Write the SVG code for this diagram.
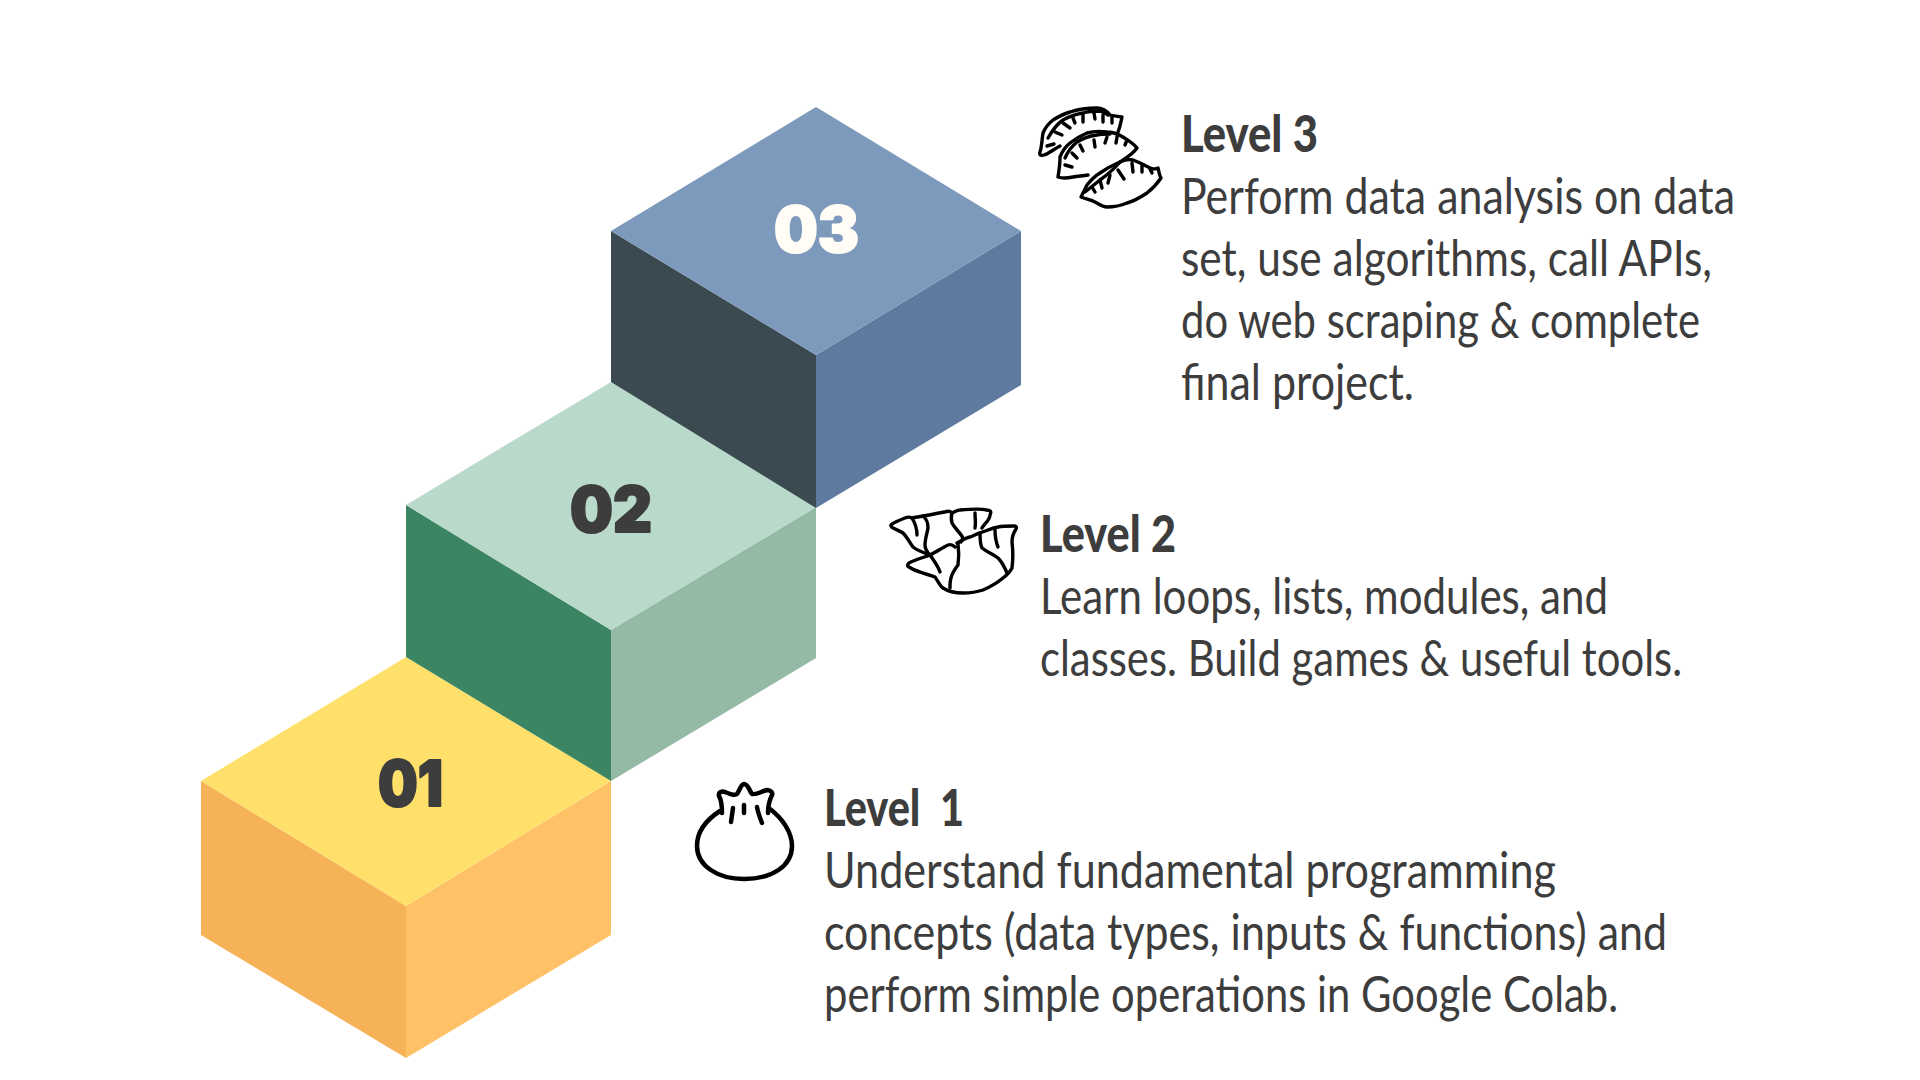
<svg xmlns="http://www.w3.org/2000/svg" width="1920" height="1080" viewBox="0 0 1920 1080">
<style>
.h{font-family:"Lato","Open Sans",sans-serif;font-weight:900;font-size:51px;fill:#3d3d3d;white-space:pre}
.t{font-family:"Lato","Open Sans",sans-serif;font-weight:400;font-size:50px;fill:#3d3d3d}
.n{font-family:"Inter",sans-serif;font-weight:900;font-size:63px;stroke-width:2;stroke-linejoin:round}
.i{fill:none;stroke:#000;stroke-width:3.4;stroke-linecap:round;stroke-linejoin:round}
</style>
<rect width="1920" height="1080" fill="#fff"/>
<g id="cube-1">
<polygon points="201,781 406,906 406,1058 201,935" fill="#f6b257"/>
<polygon points="611,781 406,906 406,1058 611,935" fill="#fec166"/>
<polygon points="406,657 611,781 406,906 201,781" fill="#fee06a"/>
<text class="n" x="378" y="806" fill="#3d3d3d" stroke="#3d3d3d" textLength="65" lengthAdjust="spacingAndGlyphs">01</text>
</g>
<g id="cube-2">
<polygon points="406,505 611,630 611,781 406,657" fill="#3b8562"/>
<polygon points="816,507 611,630 611,781 816,658" fill="#94b9a5"/>
<polygon points="611,382 816,507 611,630 406,505" fill="#b9dacb"/>
<text class="n" x="570" y="532" fill="#3d3d3d" stroke="#3d3d3d" textLength="82" lengthAdjust="spacingAndGlyphs">02</text>
</g>
<g id="cube-3">
<polygon points="611,231 816,355 816,508 611,382" fill="#3b4950"/>
<polygon points="1021,231 816,355 816,508 1021,385" fill="#5e7a9f"/>
<polygon points="816,107 1021,231 816,355 611,231" fill="#7d99bb"/>
<text class="n" x="774" y="252" fill="#fffdf5" stroke="#fffdf5" textLength="85" lengthAdjust="spacingAndGlyphs">03</text>
</g>
<g id="level-3">
<g class="i">
<path d="M1118,132C1120,127 1121,122 1122,117C1117,116 1113,116 1110,115C1106,110 1102,108 1097,108C1087,108 1079,109 1070,112C1063,114 1058,117 1053,120C1048,124 1045,128 1043,133C1042,138 1042,146 1040,152C1039,155 1041,156 1044,155C1050,153 1054,149 1060,146"/>
<path d="M1048,138C1052,131 1057,124 1063,120C1070,116 1077,114 1083,113C1089,111 1095,111 1100,111C1104,112 1106,113 1108,115"/>
<path d="M1047,146L1054,144M1055,132L1062,135M1063,123L1070,128M1073,118L1075,123M1083,115L1083,122M1094,113L1095,119M1103,115L1103,122M1112,117L1112,123"/>
<path d="M1120,162C1123,160 1133,154 1137,148C1133,143 1129,141 1123,137C1118,134 1113,132 1107,132C1100,131 1094,131 1087,133C1080,136 1075,139 1070,143C1065,147 1062,152 1060,157C1060,164 1059,171 1058,177C1063,179 1068,178 1073,177C1078,176 1083,176 1088,175"/>
<path d="M1065,158C1068,151 1072,146 1077,142C1083,138 1090,136 1097,135C1101,134 1105,134 1110,134"/>
<path d="M1065,165L1072,167M1072,153L1077,158M1080,145L1083,151M1094,140L1095,147M1107,137L1105,143M1117,137L1116,143M1127,140L1125,145"/>
<path d="M1081,197C1083,193 1085,189 1087,185C1091,180 1095,176 1100,173C1107,168 1113,165 1120,162C1124,160 1128,159 1133,160C1139,162 1144,165 1150,168C1153,170 1155,169 1158,168C1159,171 1159,175 1161,178C1157,184 1152,189 1147,193C1141,197 1134,201 1127,203C1120,206 1113,207 1107,207C1102,207 1099,204 1095,202C1091,200 1086,199 1081,197Z"/>
<path d="M1085,192C1090,188 1095,184 1100,180C1107,175 1114,169 1120,162"/>
<path d="M1092,187L1095,192M1100,180L1102,188M1110,175L1108,183M1118,170L1124,179M1132,163L1133,172M1142,166L1142,172M1150,169L1152,173"/>
</g>
<text class="h" x="1181" y="152" textLength="137" lengthAdjust="spacingAndGlyphs">Level 3</text>
<text class="t" x="1181" y="214" textLength="554" lengthAdjust="spacingAndGlyphs">Perform data analysis on data</text>
<text class="t" x="1181" y="276" textLength="531" lengthAdjust="spacingAndGlyphs">set, use algorithms, call APIs,</text>
<text class="t" x="1181" y="338" textLength="519" lengthAdjust="spacingAndGlyphs">do web scraping &amp; complete</text>
<text class="t" x="1181" y="400" textLength="233" lengthAdjust="spacingAndGlyphs">final project.</text>
</g>
<g id="level-2">
<g class="i">
<path d="M982,528C985,523 990,520 990,515C992,511 990,510 986,510C983,509 971,509 960,510C957,510 955,512 952,513C950,511 947,511 945,512C938,513 930,515 923,516C919,517 915,517 912,518C910,517 907,517 905,518C900,520 895,522 892,524C890,525 891,527 893,528C897,530 900,531 903,533C907,537 910,543 913,547C918,551 924,553 930,555"/>
<path d="M912,518C915,523 917,529 917,535M923,516C927,519 928,523 928,528C927,534 925,539 925,545C925,549 927,552 930,555M952,513C951,517 951,520 952,523C955,529 960,532 963,538L961,542M975,513C975,518 976,523 975,528"/>
<path d="M930,555C922,558 914,560 909,563C907,565 907,566 909,567C912,569 916,571 920,572C925,574 930,575 935,577C938,581 940,586 943,588C949,592 956,593 963,593C970,593 977,592 983,590C990,587 997,583 1003,578C1007,575 1010,572 1012,568C1013,560 1013,550 1012,542C1012,537 1014,532 1016,529C1017,527 1016,526 1014,526C1009,526 1003,526 998,527C992,528 986,531 980,533C976,534 973,536 970,537C965,538 961,541 957,543"/>
<path d="M930,555C936,552 942,548 948,545C951,544 953,545 955,547M930,555C934,561 938,566 940,572M958,544C959,551 959,558 958,565C955,569 952,573 951,578C950,581 950,585 950,588M980,533C980,539 980,544 982,548C987,552 993,554 998,558C1002,562 1005,568 1007,573M995,530C995,536 996,542 998,547"/>
</g>
<text class="h" x="1040" y="552" textLength="136" lengthAdjust="spacingAndGlyphs">Level 2</text>
<text class="t" x="1040" y="614" textLength="568" lengthAdjust="spacingAndGlyphs">Learn loops, lists, modules, and</text>
<text class="t" x="1040" y="676" textLength="642" lengthAdjust="spacingAndGlyphs">classes. Build games &amp; useful tools.</text>
</g>
<g id="level-1">
<g class="i" style="stroke-width:4.5">
<path d="M720,811C706,820 697,832 697,846C697,866 718,879 744,879C772,879 792,866 792,846C792,832 782,818 770,809"/>
<path d="M722,813C722,807 722,801 719,796C718,792 722,791 725,792C730,794 735,796 737,794C740,790 741,784 744,784C748,784 749,790 752,794C757,795 762,791 767,790C771,790 773,793 772,795C769,801 768,807 768,813M733,808L731,822M744,805L744,813M757,807C758,813 760,818 762,823"/>
</g>
<text class="h" x="824" y="826" textLength="140" lengthAdjust="spacingAndGlyphs">Level  1</text>
<text class="t" x="824" y="888" textLength="732" lengthAdjust="spacingAndGlyphs">Understand fundamental programming</text>
<text class="t" x="824" y="950" textLength="843" lengthAdjust="spacingAndGlyphs">concepts (data types, inputs &amp; functions) and</text>
<text class="t" x="824" y="1012" textLength="794" lengthAdjust="spacingAndGlyphs">perform simple operations in Google Colab.</text>
</g>
</svg>
